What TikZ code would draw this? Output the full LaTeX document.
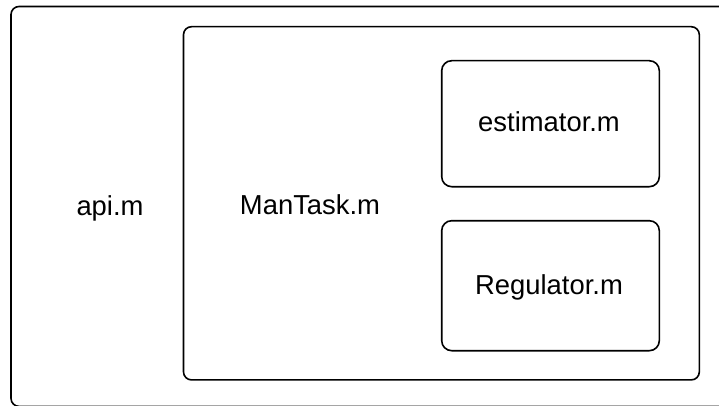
\documentclass[tikz,border=0pt]{standalone}
\usepackage{fontspec}
\setmainfont{Liberation Sans}
\begin{document}
\begin{tikzpicture}[x=1pt,y=-1pt,
  frame/.style={draw=black,line width=1.6pt,rounded corners=8pt,inner sep=0pt},
  lbl/.style={anchor=base,inner sep=0pt,font=\fontsize{27.4}{33}\selectfont}]
\useasboundingbox (0,0) rectangle (719,406);
\begin{scope}
\clip (0,0) rectangle (719,406);
% outer module frame, running past the page edge on the right and bottom
\draw[frame] (11,6.5) rectangle (735,406.4);
\end{scope}
% ManTask container
\node[frame,minimum width=515.8pt,minimum height=353.2pt] (mantask) at (441.4,203.3) {};
% sub-modules
\node[frame,rounded corners=10pt,minimum width=217.6pt,minimum height=126pt] (est) at (550.5,123.7) {};
\node[frame,rounded corners=10pt,minimum width=217.6pt,minimum height=130pt] (reg) at (550.5,285.7) {};
% labels
\node[lbl] (apil) at (110,215) {api.m};
\node[lbl] (mtl) at (310,214.3) {ManTask.m};
\node[lbl] (estl) at (549,131.7) {estimator.m};
\node[lbl] (regl) at (549,294) {Regulator.m};
\end{tikzpicture}
\end{document}
